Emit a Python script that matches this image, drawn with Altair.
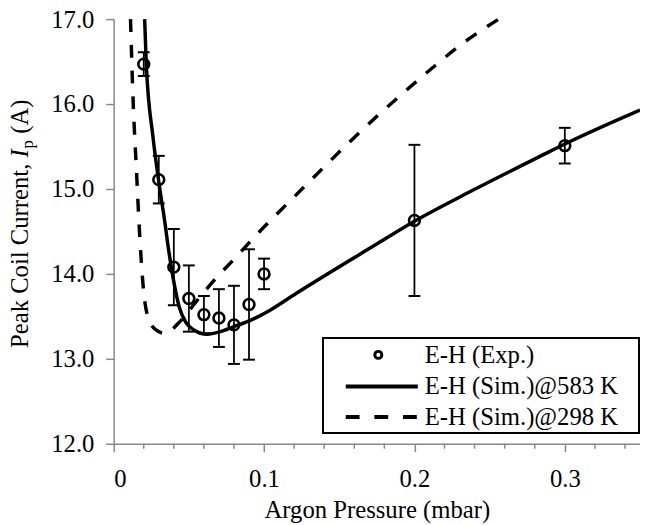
import altair as alt
import pandas as pd

# ---------------- data ----------------
exp_pressure = [0.02, 0.03, 0.04, 0.05, 0.06, 0.07, 0.08, 0.09, 0.10, 0.20, 0.30]
exp_current = [16.47, 15.11, 14.08, 13.71, 13.52, 13.48, 13.40, 13.64, 14.00, 14.63, 15.51]
exp_error = [0.14, 0.28, 0.45, 0.39, 0.22, 0.34, 0.46, 0.65, 0.18, 0.89, 0.21]

sim583_pressure = [0.0206, 0.0217, 0.0261, 0.0298, 0.0337, 0.037, 0.0403, 0.0436, 0.048,
                   0.0534, 0.0622, 0.0709, 0.080, 0.0906, 0.1037, 0.1213, 0.1738, 0.20,
                   0.2394, 0.2898, 0.30, 0.35]
sim583_current = [17.0, 16.47, 15.62, 15.11, 14.65, 14.23, 13.88, 13.61, 13.43,
                  13.34, 13.29, 13.32, 13.38, 13.45, 13.57, 13.77, 14.34, 14.62,
                  14.99, 15.44, 15.53, 15.93]

sim298_pressure = [0.0112, 0.013, 0.0151, 0.0173, 0.0195, 0.0228, 0.0282, 0.0337, 0.0447,
                   0.0556, 0.0666, 0.082, 0.0928, 0.106, 0.119, 0.1741, 0.188, 0.2023,
                   0.2176, 0.2318, 0.256]
sim298_current = [17.0, 16.01, 15.24, 14.46, 13.88, 13.49, 13.34, 13.30, 13.45,
                  13.69, 13.92, 14.21, 14.42, 14.66, 14.89, 15.84, 16.06, 16.28,
                  16.51, 16.71, 17.0]

x_major_ticks = [0, 0.1, 0.2, 0.3]
x_minor_ticks = [0.02, 0.04, 0.06, 0.08, 0.12, 0.14, 0.16, 0.18,
                 0.22, 0.24, 0.26, 0.28, 0.32, 0.34]
y_ticks = [12, 13, 14, 15, 16, 17]
legend_labels = ["E-H (Exp.)", "E-H (Sim.)@583 K", "E-H (Sim.)@298 K"]
x_title = "Argon Pressure (mbar)"
y_title_parts = ["Peak Coil Current,", "I", "p", "(A)"]

# ---------------- layout / style ----------------
W, H = 533, 430
FONT = "Liberation Serif, Times New Roman, serif"
FS = 25
GRAY = "#888888"

exp = pd.DataFrame({
    "p": exp_pressure,
    "i": exp_current,
    "lo": [c - e for c, e in zip(exp_current, exp_error)],
    "hi": [c + e for c, e in zip(exp_current, exp_error)],
})
caps = pd.concat([
    pd.DataFrame({"p": exp["p"], "i": exp["lo"]}),
    pd.DataFrame({"p": exp["p"], "i": exp["hi"]}),
])
s583 = pd.DataFrame({"p": sim583_pressure, "i": sim583_current})
s298 = pd.DataFrame({"p": sim298_pressure, "i": sim298_current})
minor = pd.DataFrame({"p": x_minor_ticks})
dummy = pd.DataFrame({"a": [0]})

xscale = alt.Scale(domain=[0, 0.35], nice=False, zero=False)
yscale = alt.Scale(domain=[12, 17], nice=False, zero=False)

x_axis = alt.Axis(
    values=x_major_ticks,
    labelExpr="datum.value == 0 ? '0' : format(datum.value, '.1f')",
    title=x_title, grid=False, tickSize=8, labelPadding=15, titlePadding=7,
)
y_axis = alt.Axis(values=y_ticks, format=".1f", title=None, grid=False,
                  tickSize=8, labelPadding=12)


def X(field="p"):
    return alt.X(f"{field}:Q", scale=xscale, axis=x_axis)


def Y(field="i"):
    return alt.Y(f"{field}:Q", scale=yscale, axis=y_axis)


solid = alt.Chart(s583).mark_line(color="black", strokeWidth=3.5, interpolate="monotone").encode(
    x=X(), y=Y())
dashed = alt.Chart(s298).mark_line(color="black", strokeWidth=3.5, strokeDash=[13, 13],
                                   interpolate="monotone").encode(x=X(), y=Y())
bars = alt.Chart(exp).mark_rule(color="black", strokeWidth=1.8).encode(
    x=X(), y=Y("lo"), y2="hi:Q")
cap_marks = alt.Chart(caps).mark_tick(color="black", orient="horizontal", size=12,
                                      thickness=2, opacity=1).encode(x=X(), y=Y())
points = alt.Chart(exp).mark_point(shape="circle", filled=False, color="black", size=120,
                                   strokeWidth=2.6, opacity=1).encode(x=X(), y=Y())
minor_ticks = alt.Chart(minor).mark_rule(color=GRAY, strokeWidth=1.5).encode(
    x=X(), y=alt.value(H), y2=alt.value(H + 5))

# legend (drawn manually)
lx0, lx1, ly0, ly1 = 212, 532, 323, 419
leg_box = alt.Chart(dummy).mark_rect(fill="white", stroke="black", strokeWidth=2).encode(
    x=alt.value(lx0), x2=alt.value(lx1), y=alt.value(ly0), y2=alt.value(ly1))
row_y = [340, 372, 403]
leg_pt = alt.Chart(dummy).mark_point(shape="circle", filled=False, color="black", size=50,
                                     strokeWidth=3, opacity=1).encode(
    x=alt.value(268), y=alt.value(row_y[0]))
leg_solid = alt.Chart(dummy).mark_rule(color="black", strokeWidth=4).encode(
    x=alt.value(235), x2=alt.value(308), y=alt.value(row_y[1]))
leg_dash = alt.Chart(dummy).mark_rule(color="black", strokeWidth=4, strokeDash=[14, 15]).encode(
    x=alt.value(235), x2=alt.value(308), y=alt.value(row_y[2]))
leg_texts = [
    alt.Chart(dummy).mark_text(text=lab, font=FONT, fontSize=FS, align="left",
                               baseline="middle", color="black").encode(
        x=alt.value(315), y=alt.value(ry))
    for lab, ry in zip(legend_labels, row_y)
]

# y-axis title with italic I and subscript p
tx = -86.5
ty_title = [
    alt.Chart(dummy).mark_text(text=y_title_parts[0], font=FONT, fontSize=FS, angle=270,
                               align="left", baseline="alphabetic", color="black").encode(
        x=alt.value(tx), y=alt.value(333)),
    alt.Chart(dummy).mark_text(text=y_title_parts[1], font=FONT, fontSize=FS, angle=270,
                               fontStyle="italic", align="left", baseline="alphabetic",
                               color="black").encode(
        x=alt.value(tx), y=alt.value(140)),
    alt.Chart(dummy).mark_text(text=y_title_parts[2], font=FONT, fontSize=17, angle=270,
                               align="left", baseline="alphabetic", color="black").encode(
        x=alt.value(tx + 5), y=alt.value(131)),
    alt.Chart(dummy).mark_text(text=y_title_parts[3], font=FONT, fontSize=FS, angle=270,
                               align="left", baseline="alphabetic", color="black").encode(
        x=alt.value(tx), y=alt.value(116)),
]

chart = alt.layer(
    solid, dashed, bars, cap_marks, points, minor_ticks,
    leg_box, leg_pt, leg_solid, leg_dash, *leg_texts, *ty_title,
).properties(
    width=W, height=H,
    autosize=alt.AutoSizeParams(type="none"),
    padding={"left": 107, "top": 8, "right": 0, "bottom": 79},
).configure_view(stroke=None).configure_axis(
    labelFont=FONT, titleFont=FONT, labelFontSize=FS, titleFontSize=FS,
    labelColor="black", titleColor="black", titleFontWeight="normal",
    domainColor=GRAY, tickColor=GRAY, domainWidth=1.5, tickWidth=1.5,
)

chart.save("out.html", embed_options={"renderer": "svg", "actions": False})
